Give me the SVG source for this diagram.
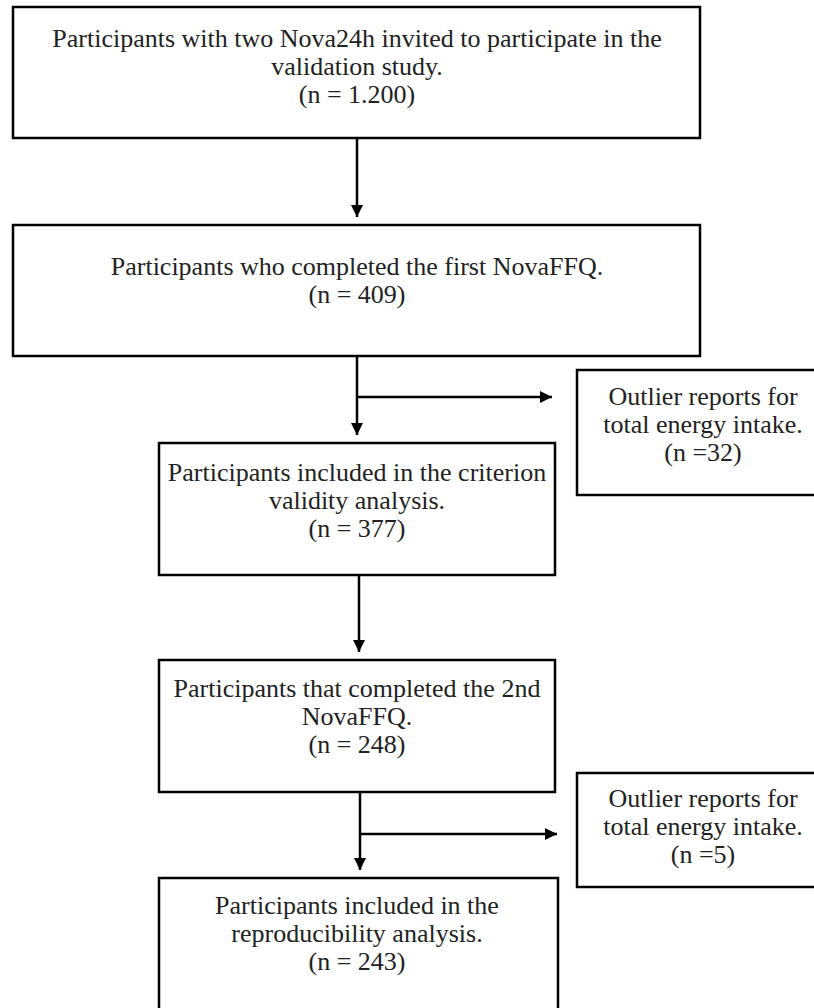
<svg xmlns="http://www.w3.org/2000/svg" width="814" height="1008" viewBox="0 0 814 1008">
<defs>
<style>
.box{fill:#fff;stroke:#000;stroke-width:2.5}
.t{font-family:"Liberation Serif","Times New Roman",serif;font-size:26px;fill:#222;text-anchor:middle}
.c{fill:none;stroke:#000;stroke-width:2.5}
</style>
<marker id="ah" markerUnits="userSpaceOnUse" markerWidth="14" markerHeight="12" viewBox="0 0 14 12" refX="12" refY="6" orient="auto">
<path d="M0,0 L12,6 L0,12 Z" fill="#000"/>
</marker>
</defs>
<rect width="814" height="1008" fill="#fff"/>
<g id="connectors">
<line class="c" x1="357" y1="138" x2="357" y2="217" marker-end="url(#ah)"/>
<line class="c" x1="357" y1="356" x2="357" y2="435" marker-end="url(#ah)"/>
<line class="c" x1="357" y1="397" x2="552" y2="397" marker-end="url(#ah)"/>
<line class="c" x1="359" y1="575" x2="359" y2="652" marker-end="url(#ah)"/>
<line class="c" x1="360" y1="791" x2="360" y2="870" marker-end="url(#ah)"/>
<line class="c" x1="360" y1="834" x2="557" y2="834" marker-end="url(#ah)"/>
</g>
<g id="n1">
<rect class="box" x="13" y="7" width="687" height="131"/>
<text class="t" x="357" y="47">Participants with two Nova24h invited to participate in the</text>
<text class="t" x="357" y="75">validation study.</text>
<text class="t" x="357" y="103">(n = 1.200)</text>
</g>
<g id="n2">
<rect class="box" x="13" y="225" width="687" height="131"/>
<text class="t" x="357" y="274.5">Participants who completed the first NovaFFQ.</text>
<text class="t" x="357" y="302.5">(n = 409)</text>
</g>
<g id="n3">
<rect class="box" x="159" y="443" width="396" height="132"/>
<text class="t" x="357" y="480.5">Participants included in the criterion</text>
<text class="t" x="357" y="508.5">validity analysis.</text>
<text class="t" x="357" y="536.5">(n = 377)</text>
</g>
<g id="n4">
<rect class="box" x="577" y="370" width="240" height="125"/>
<text class="t" x="703" y="404.5">Outlier reports for</text>
<text class="t" x="703" y="432.5">total energy intake.</text>
<text class="t" x="703" y="460.5">(n =32)</text>
</g>
<g id="n5">
<rect class="box" x="159" y="660" width="396" height="132"/>
<text class="t" x="357" y="696.5">Participants that completed the 2nd</text>
<text class="t" x="357" y="724.5">NovaFFQ.</text>
<text class="t" x="357" y="752.5">(n = 248)</text>
</g>
<g id="n6">
<rect class="box" x="577" y="773" width="240" height="114"/>
<text class="t" x="703" y="806.5">Outlier reports for</text>
<text class="t" x="703" y="834.5">total energy intake.</text>
<text class="t" x="703" y="862.5">(n =5)</text>
</g>
<g id="n7">
<rect class="box" x="159" y="878" width="399" height="140"/>
<text class="t" x="357" y="913.5">Participants included in the</text>
<text class="t" x="357" y="941.5">reproducibility analysis.</text>
<text class="t" x="357" y="969.5">(n = 243)</text>
</g>
</svg>
